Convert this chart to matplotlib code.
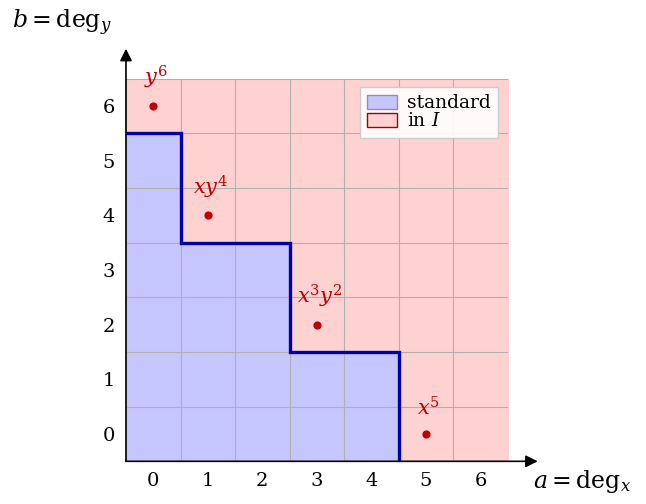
# staircase of standard monomials for a monomial ideal in two variables
import matplotlib
matplotlib.use('Agg')
import matplotlib.pyplot as plt
from matplotlib.patches import Patch
import numpy as np


plt.rcParams['font.family'] = ['DejaVu Serif']
plt.rcParams['mathtext.fontset'] = 'dejavuserif'

# generators of the ideal: exponents (a, b) and their labels
gen_a: list = [0, 1, 3, 5]
gen_b: list = [6, 4, 2, 0]
gen_labels: list = [r'$y^6$', r'$xy^4$', r'$x^3y^2$', r'$x^5$']

ticks: list = [0, 1, 2, 3, 4, 5, 6]

blue_fill: str = '#c6c6ff'
red_fill: str = '#ffd2d2'
dark_red: str = '#c00000'
stair_blue: str = '#0000aa'


def staircase_path(a_vals, b_vals, lo):
    # walk along the corners of the standard region
    xs: list = [lo]
    ys: list = [b_vals[0] - 0.5]
    for i in range(len(a_vals) - 1):
        xs.append(a_vals[i + 1] - 0.5)
        ys.append(b_vals[i] - 0.5)
        xs.append(a_vals[i + 1] - 0.5)
        ys.append(b_vals[i + 1] - 0.5)
    xs[-1] = a_vals[-1] - 0.5
    ys[-1] = lo
    return np.array(xs), np.array(ys)


lo: float = -0.5
hi: float = 6.5

fig = plt.figure(figsize = (6.46, 5.04), dpi = 100)
ax = fig.add_axes([0.195, 0.0847, 0.591, 0.759])

ax.fill_between([lo, hi], lo, hi, color = red_fill, zorder = 0)

sx, sy = staircase_path(gen_a, gen_b, lo)
poly_x = np.concatenate(([lo], sx, [lo]))
poly_y = np.concatenate(([lo], sy, [lo]))
ax.fill(poly_x, poly_y, color = blue_fill, lw = 0, zorder = 1)

for t in np.arange(lo, hi + 0.01, 1.0):
    ax.axvline(t, color = '#b0b0b0', lw = 0.8, zorder = 2)
    ax.axhline(t, color = '#b0b0b0', lw = 0.8, zorder = 2)

ax.plot(sx, sy, color = stair_blue, lw = 2.4, zorder = 4, solid_joinstyle = 'miter')

ax.scatter(gen_a, gen_b, s = 24, color = dark_red, zorder = 5)
for a, b, lab in zip(gen_a, gen_b, gen_labels):
    ax.text(a + 0.05, b + 0.27, lab, color = dark_red, fontsize = 15,
            ha = 'center', va = 'bottom', zorder = 5)

ax.set_xlim(lo, hi)
ax.set_ylim(lo, hi)
ax.set_xticks(ticks)
ax.set_yticks(ticks)
ax.tick_params(length = 0, labelsize = 14, pad = 8)
for side in ['top', 'right', 'left', 'bottom']:
    ax.spines[side].set_visible(False)

# axis arrows
for tip in [(7.05, lo), (lo, 7.05)]:
    ax.annotate('', xy = tip, xytext = (lo, lo), xycoords = 'data',
                arrowprops = dict(arrowstyle = '-|>', color = 'black', lw = 1.2,
                                  mutation_scale = 18, shrinkA = 0, shrinkB = 0),
                annotation_clip = False)

fig.text(0.018, 0.955, r'$b = \mathrm{deg}_y$', fontsize = 17, ha = 'left', va = 'center')
fig.text(0.825, 0.045, r'$a = \mathrm{deg}_x$', fontsize = 17, ha = 'left', va = 'center')

handles = [Patch(facecolor = blue_fill, edgecolor = '#9090b0', label = 'standard'),
           Patch(facecolor = red_fill, edgecolor = '#a00000', label = r'in $I$')]
ax.legend(handles = handles, loc = 'upper right', bbox_to_anchor = (0.974, 0.979),
          borderaxespad = 0.0,
          fontsize = 13.5, frameon = True, fancybox = False, framealpha = 0.9,
          edgecolor = '#c8c8c8', handlelength = 1.6, handleheight = 0.8,
          handletextpad = 0.5, labelspacing = 0.0, borderpad = 0.4)

fig.savefig('out.png', dpi = 100)
